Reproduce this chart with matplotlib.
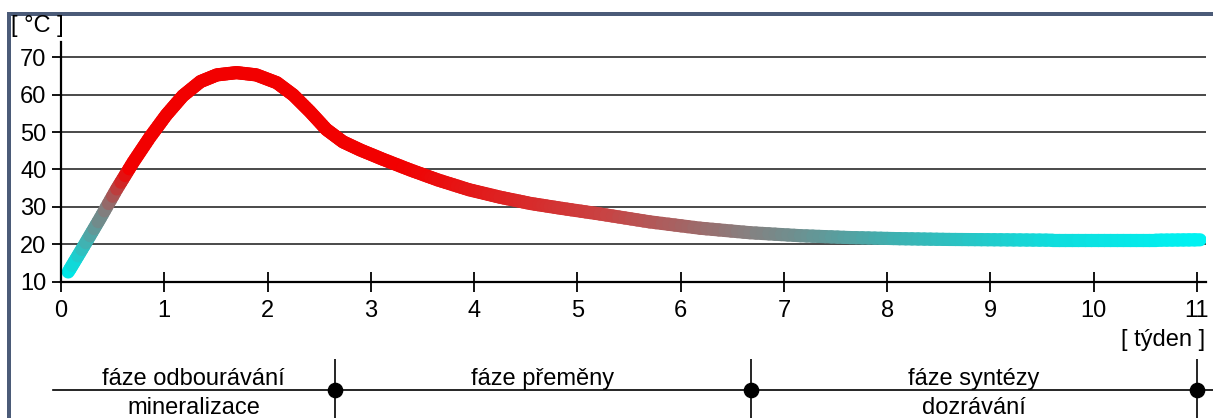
"""Compost temperature over weeks with the three phases underneath."""

import numpy as np
from matplotlib import pyplot as plt
from matplotlib.collections import LineCollection
from matplotlib.colors import LinearSegmentedColormap
from matplotlib.patches import Rectangle

plt.rcParams["font.family"] = ["Liberation Sans", "DejaVu Sans"]

# temperature curve
weeks = [0.07, 0.22, 0.38, 0.54, 0.70, 0.86, 1.02, 1.18, 1.35, 1.51, 1.70, 1.89,
         2.09, 2.25, 2.41, 2.57, 2.73, 2.90, 3.12, 3.38, 3.65, 3.95, 4.25, 4.55,
         4.85, 5.22, 5.70, 6.19, 6.67, 7.16, 7.64, 8.12, 8.60, 9.10, 9.60, 10.10,
         10.60, 11.03]
temps = [12.6, 19.5, 27.0, 34.8, 42.0, 48.6, 54.6, 59.7, 63.5, 65.3, 65.9, 65.3,
         63.2, 59.9, 55.5, 50.7, 47.4, 45.2, 42.7, 39.9, 37.2, 34.6, 32.6, 30.9,
         29.6, 28.1, 26.0, 24.3, 23.1, 22.3, 21.8, 21.5, 21.3, 21.2, 21.1, 21.1,
         21.1, 21.2]

x_ticks = list(range(0, 12))
y_ticks = [10, 20, 30, 40, 50, 60, 70]

# phases below the chart
phase_start = -0.08
phase_bounds = [2.65, 6.68, 11.0]
phase_top = ["fáze odbourávání", "fáze přeměny", "fáze syntézy"]
phase_bottom = ["mineralizace", "", "dozrávání"]

W, H = 1213, 418
FS = 17

# colour along the curve (by week)
grad_stops = [(0.07, "#00e6e6"), (0.42, "#837c7c"), (0.66, "#f20000"), (3.3, "#f20000"),
              (5.3, "#c94343"), (6.7, "#868080"), (8.1, "#3eb0b0"), (9.6, "#10dcdc"),
              (11.03, "#00f2f2")]
lo, hi = grad_stops[0][0], grad_stops[-1][0]
cmap = LinearSegmentedColormap.from_list(
    "heat", [((p - lo) / (hi - lo), c) for p, c in grad_stops])

fig = plt.figure(figsize=(W / 100, H / 100), dpi=100)

px_per_week = 103.27
x_left, x_right, y_bottom, y_top = 61, 1206, 281.7, 42
ax = fig.add_axes([x_left / W, 1 - y_bottom / H, (x_right - x_left) / W, (y_bottom - y_top) / H])
ax.set_xlim(0, (x_right - x_left) / px_per_week)
ax.set_ylim(10, 10 + (y_bottom - y_top) / 3.74)

# split each straight piece so the colour changes smoothly along it
segs, cols = [], []
for i in range(len(weeks) - 1):
    xs = np.linspace(weeks[i], weeks[i + 1], 9)
    ys = np.linspace(temps[i], temps[i + 1], 9)
    for j in range(8):
        segs.append([(xs[j], ys[j]), (xs[j + 1], ys[j + 1])])
        cols.append(cmap(((xs[j] + xs[j + 1]) / 2 - lo) / (hi - lo)))
ax.add_collection(LineCollection(segs, colors=cols, linewidths=9.5,
                                 capstyle="round", joinstyle="round", zorder=3))

ax.set_xticks(x_ticks)
ax.set_yticks(y_ticks)
ax.tick_params(axis="x", direction="inout", length=14, width=1.3, pad=6, labelsize=FS)
ax.tick_params(axis="y", direction="out", length=6.5, width=1.3, pad=4, labelsize=FS)
ax.yaxis.grid(True, color="#2a2a2a", linewidth=1.2)
ax.set_axisbelow(True)
for side in ["top", "right"]:
    ax.spines[side].set_visible(False)
for side in ["left", "bottom"]:
    ax.spines[side].set_linewidth(1.6)
    ax.spines[side].set_zorder(4)

fig.text(37 / W, 1 - 26 / H, "[ °C ]", ha="center", va="center", fontsize=FS)
fig.text(1205 / W, 1 - 340 / H, "[ týden ]", ha="right", va="center", fontsize=FS)

# phase strip
pax = fig.add_axes([x_left / W, 0, (x_right - x_left) / W, 78 / H])
pax.set_xlim(ax.get_xlim())
pax.set_ylim(0, 78)
pax.axis("off")
right_end = (W - x_left) / px_per_week
pax.plot([phase_start, right_end], [28, 28], color="black", linewidth=1.2, clip_on=False)
pax.vlines(phase_bounds, 0, 59, color="black", linewidth=1.2, clip_on=False)
pax.scatter(phase_bounds, [28] * len(phase_bounds), s=105, color="black", zorder=3, clip_on=False)
lefts = [phase_start] + phase_bounds[:-1]
for left, right, top, bottom in zip(lefts, phase_bounds, phase_top, phase_bottom):
    mid = (left + right) / 2
    pax.text(mid, 33, top, ha="center", va="baseline", fontsize=FS)
    if bottom:
        pax.text(mid, 4, bottom, ha="center", va="baseline", fontsize=FS)

# slate frame on top and left
frame = "#4b5b78"
fig.add_artist(Rectangle((7 / W, 1 - 16 / H), 1, 4 / H, transform=fig.transFigure,
                         color=frame, linewidth=0))
fig.add_artist(Rectangle((7 / W, 0), 4 / W, 1 - 12 / H, transform=fig.transFigure,
                         color=frame, linewidth=0))

fig.savefig("out.png", dpi=100)
